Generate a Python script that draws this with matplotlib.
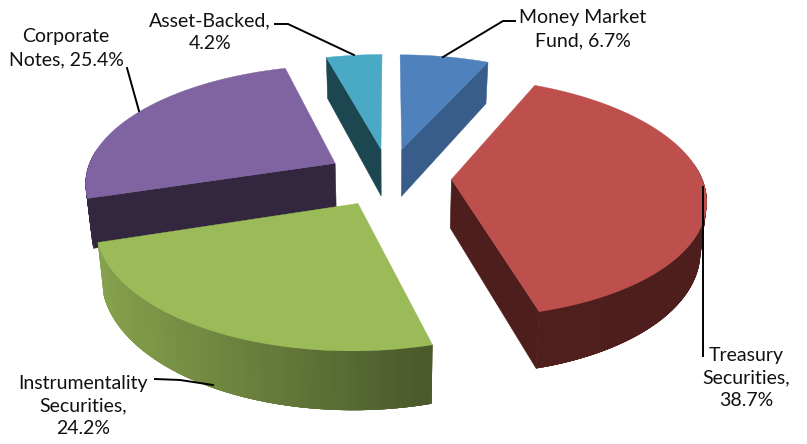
#!/usr/bin/env python3

import matplotlib

matplotlib.use("Agg")
import matplotlib.colors as mcolors
import matplotlib.pyplot as plt
import numpy as np

# portfolio composition, clockwise from twelve o'clock
shares = [6.7, 38.7, 24.2, 25.4, 4.2]
label_formats = [
    "Money Market\nFund, {}%",
    "Treasury\nSecurities,\n{}%",
    "Instrumentality\nSecurities,\n{}%",
    "Corporate\nNotes, {}%",
    "Asset-Backed,\n{}%",
]

top_colors = ["#4f81bd", "#bd4f4c", "#9bbb59", "#8064a2", "#4aaac6"]
cut_colors = ["#385d8a", "#4e1e1c", "#5f7535", "#33273f", "#1c4650"]
rim_left_colors = ["#385d8a", "#4f1f1d", "#87a24d", "#33273f", "#1c4650"]
rim_right_colors = ["#385d8a", "#4e1e1c", "#4a5a2b", "#33273f", "#1c4650"]

label_xy = [(583, 29), (746, 378), (83, 406), (66, 48), (210, 32)]
leaders = [
    [(515, 21), (503, 21), (443, 57)],
    [(703, 187), (703, 356)],
    [(155, 379), (180, 380), (213, 385)],
    [(127, 68), (139, 111)],
    [(275, 24), (288, 24), (354, 55)],
]

# back-to-front order so nearer slices cover the ones behind
draw_order = [4, 0, 3, 1, 2]

# camera for the tilted disc, in pixels
CX, CY = 389.0, 177.0
RX, RY = 250.0, 116.5
PERSP = 0.15
EXPLODE = 0.25
THICK = 48.5
BOTTOM_SHRINK = 0.98


def project(x, y, bottom=False):
    scale = 1.0 / (1.0 + PERSP * y)
    sx = RX * x * scale
    sy = CY - RY * y * scale
    if bottom:
        sx *= BOTTOM_SHRINK
        sy = sy + THICK * scale
    return np.column_stack([CX + sx, sy])


def draw_cut(ax, theta, ox, oy, color):
    xs = np.array([ox, np.sin(theta) + ox])
    ys = np.array([oy, np.cos(theta) + oy])
    poly = np.vstack([project(xs, ys), project(xs, ys, True)[::-1]])
    ax.fill(poly[:, 0], poly[:, 1], color=color, lw=0.4, zorder=1)


def draw_slice(ax, i, start, end):
    mid = (start + end) / 2
    ox, oy = EXPLODE * np.sin(mid), EXPLODE * np.cos(mid)
    theta = np.linspace(start, end, 120)
    xs, ys = np.sin(theta) + ox, np.cos(theta) + oy

    # cut faces turned towards the viewer
    if np.sin(end) > 0:
        draw_cut(ax, end, ox, oy, cut_colors[i])
    if np.sin(start) < 0:
        draw_cut(ax, start, ox, oy, cut_colors[i])

    # outer rim, front part only, thin overlapping strips avoid seams
    top = project(xs, ys)
    low = project(xs, ys, True)
    c0 = np.array(mcolors.to_rgb(rim_left_colors[i]))
    c1 = np.array(mcolors.to_rgb(rim_right_colors[i]))
    x_min = low[:, 0].min()
    x_span = max(low[:, 0].max() - x_min, 1.0)
    order = np.argsort(low[:-1, 0])
    for k in order:
        if np.cos(theta[k]) > 0.1:
            continue
        t = (low[k, 0] - x_min) / x_span
        color = c0 + (c1 - c0) * t
        hi = min(k + 4, len(xs))
        lo = max(k - 2, 0)
        poly = np.vstack([top[lo:hi], low[lo:hi][::-1]])
        ax.fill(poly[:, 0], poly[:, 1], color=color, lw=0, zorder=1)

    # top face
    apex = project(np.array([ox]), np.array([oy]))
    face = np.vstack([apex, top])
    ax.fill(face[:, 0], face[:, 1], color=top_colors[i], lw=0.3, zorder=1)


def main():
    fig = plt.figure(figsize=(8.07, 4.44), dpi=100)
    ax = fig.add_axes([0, 0, 1, 1])
    ax.set_xlim(0, 807)
    ax.set_ylim(444, 0)
    ax.axis("off")

    edges = np.cumsum([0.0] + shares) / sum(shares) * 2 * np.pi
    for i in draw_order:
        draw_slice(ax, i, edges[i], edges[i + 1])

    for line in leaders:
        pts = np.array(line)
        ax.plot(pts[:, 0], pts[:, 1], color="black", lw=1.4, zorder=3)

    for fmt, value, (x, y) in zip(label_formats, shares, label_xy):
        ax.text(x, y, fmt.format(value), ha="center", va="center", fontsize=14,
                family="Lato", color="#111111", linespacing=1.42, zorder=4)

    fig.savefig("out.png", dpi=100)
    plt.close(fig)


if __name__ == "__main__":
    main()
